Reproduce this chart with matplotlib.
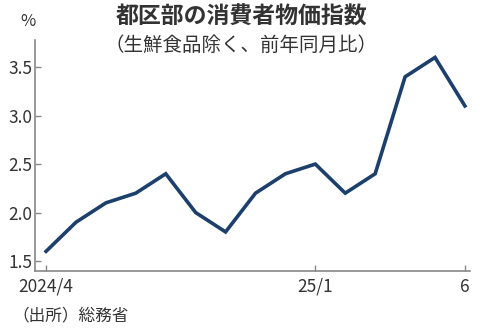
import matplotlib
matplotlib.use("Agg")
import matplotlib.pyplot as plt

plt.rcParams['font.family'] = ['Noto Sans CJK JP', 'DejaVu Sans']

months = list(range(15))
values = [1.6, 1.9, 2.1, 2.2, 2.4, 2.0, 1.8, 2.2, 2.4, 2.5, 2.2, 2.4, 3.4, 3.6, 3.1]
xtick_pos = [0, 9, 14]
xtick_labels = ['2024/4', '25/1', '6']
yticks = [1.5, 2.0, 2.5, 3.0, 3.5]

fig = plt.figure(figsize=(4.8, 3.28), dpi=100)
ax = fig.add_axes([35/480, 1 - 271/328, (470-35)/480, (271-40)/328])

ax.plot(months, values, color='#1d3f6b', lw=2.6, solid_joinstyle='miter')

ax.set_xlim(-0.37, 14.17)
ax.set_ylim(1.397, 3.78)
ax.set_yticks(yticks)
ax.set_yticklabels([f'{v:.1f}' for v in yticks])
ax.set_xticks(xtick_pos)
ax.set_xticklabels(xtick_labels)

for s in ['top', 'right']:
    ax.spines[s].set_visible(False)
for s in ['left', 'bottom']:
    ax.spines[s].set_color('#888888')
    ax.spines[s].set_linewidth(1.2)
ax.tick_params(direction='in', length=4, width=1, color='#888888',
               labelsize=12.5, labelcolor='#333333', pad=2)
ax.tick_params(axis='x', pad=5)

fig.text(28/480, 1 - 21/328, '%', ha='center', va='center', fontsize=12, color='#333333')
fig.text(242/480, 1 - 17/328, '都区部の消費者物価指数', ha='center', va='center',
         fontsize=16.5, fontweight='bold', color='#333333')
fig.text(241/480, 1 - 45/328, '（生鮮食品除く、前年同月比）', ha='center', va='center',
         fontsize=14, color='#333333')
fig.text(12/480, 1 - 316/328, '（出所）総務省', ha='left', va='center', fontsize=12, color='#333333')

fig.savefig('out.png', dpi=100)
